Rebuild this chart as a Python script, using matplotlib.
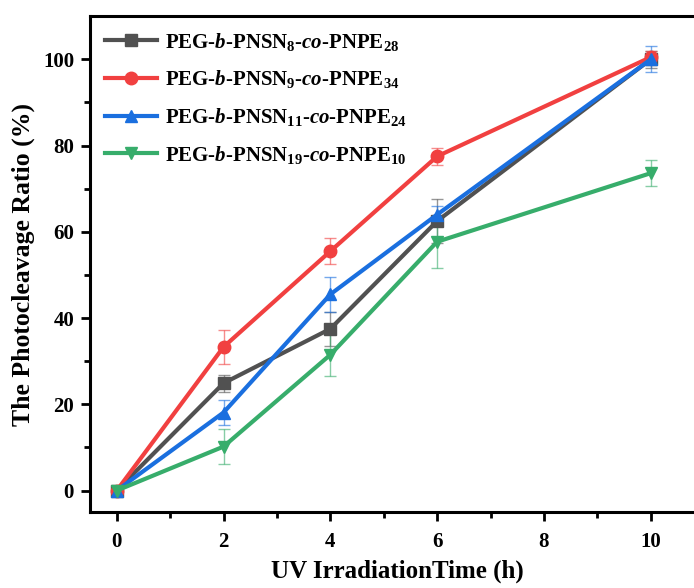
import matplotlib
matplotlib.use("Agg")
import matplotlib.pyplot as plt

plt.rcParams['font.family'] = ['Liberation Serif', 'DejaVu Serif']
plt.rcParams['font.weight'] = 'bold'
plt.rcParams['mathtext.fontset'] = 'custom'
plt.rcParams['mathtext.rm'] = 'Liberation Serif:bold'
plt.rcParams['mathtext.bf'] = 'Liberation Serif:bold'
plt.rcParams['mathtext.it'] = 'Liberation Serif:bold:italic'

# data
time_h = [0, 2, 4, 6, 10]
labels = [r'PEG-$\mathit{b}$-PNSN$_{8}$-$\mathit{co}$-PNPE$_{28}$',
          r'PEG-$\mathit{b}$-PNSN$_{9}$-$\mathit{co}$-PNPE$_{34}$',
          r'PEG-$\mathit{b}$-PNSN$_{11}$-$\mathit{co}$-PNPE$_{24}$',
          r'PEG-$\mathit{b}$-PNSN$_{19}$-$\mathit{co}$-PNPE$_{10}$']
ratio_8 = [0, 24.9, 37.5, 62.5, 100.0]
err_8 = [0.5, 2.0, 4.0, 5.0, 2.0]
ratio_9 = [0, 33.3, 55.5, 77.5, 100.5]
err_9 = [0.5, 4.0, 3.0, 2.0, 1.5]
ratio_11 = [0, 18.1, 45.5, 64.0, 100.0]
err_11 = [0.5, 3.0, 4.0, 2.0, 3.0]
ratio_19 = [0, 10.2, 31.5, 57.7, 73.6]
err_19 = [0.5, 4.0, 5.0, 6.0, 3.0]

series = [(ratio_8, err_8, '#515151', 's'),
          (ratio_9, err_9, '#F14040', 'o'),
          (ratio_11, err_11, '#1A6FDF', '^'),
          (ratio_19, err_19, '#37AD6B', 'v')]

fig = plt.figure(figsize=(6.94, 5.88), dpi=100)
ax = fig.add_axes([0.1297, 0.129, 0.885, 0.8435])

for (y, e, c, m), lab in zip(series, labels):
    ax.errorbar(time_h, y, yerr=e, fmt='none', ecolor=c, elinewidth=1.0,
                capsize=4, capthick=1.0, alpha=0.6, zorder=2)
    ax.plot(time_h, y, color=c, marker=m, markersize=9, linewidth=3,
            label=lab, zorder=3)

ax.set_xlim(-0.5, 11)
ax.set_ylim(-5, 110)
ax.set_xticks([0, 2, 4, 6, 8, 10])
ax.set_xticks([1, 3, 5, 7, 9, 11], minor=True)
ax.set_yticks([0, 20, 40, 60, 80, 100])
ax.set_yticks([10, 30, 50, 70, 90], minor=True)

for s in ax.spines.values():
    s.set_linewidth(2.2)
ax.tick_params(which='major', direction='out', length=6.5, width=2, labelsize=15, pad=5)
ax.tick_params(which='minor', direction='out', length=4, width=2)
ax.tick_params(axis='x', pad=8)

ax.set_xlabel('UV IrradiationTime (h)', fontsize=18, fontweight='bold', labelpad=5)
ax.set_ylabel('The Photocleavage Ratio (%)', fontsize=18.5, fontweight='bold', labelpad=6)

ax.legend(loc='upper left', frameon=False, fontsize=15, handlelength=2.5,
          labelspacing=0.75, borderaxespad=0.3, handletextpad=0.4)

fig.savefig('out.png', dpi=100)
